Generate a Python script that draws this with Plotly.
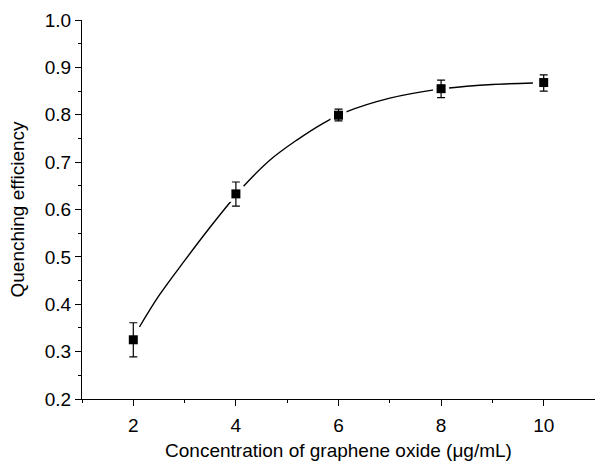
import plotly.graph_objects as go

# Measured data (mean ± error)
conc = [2, 4, 6, 8, 10]
efficiency = [0.325, 0.633, 0.799, 0.855, 0.868]
err_plus = [0.036, 0.025, 0.013, 0.018, 0.016]
err_minus = [0.036, 0.026, 0.012, 0.019, 0.018]

# Fitted curve
fit_x = [2.12, 2.5, 3.0, 3.5, 4.0, 4.14, 4.66, 5.18, 5.7, 6.15, 7.0, 7.83, 8.5, 9.0, 9.79]
fit_y = [0.352, 0.418, 0.492, 0.563, 0.630, 0.648, 0.704, 0.746, 0.782, 0.806, 0.835, 0.852, 0.860, 0.864, 0.867]

x_ticks = [2, 4, 6, 8, 10]
y_ticks = [0.2, 0.3, 0.4, 0.5, 0.6, 0.7, 0.8, 0.9, 1.0]

FONT = "Liberation Sans, Arial, sans-serif"

fig = go.Figure()
fig.add_trace(go.Scatter(x=fit_x, y=fit_y, mode="lines", line=dict(color="black", width=1.4, shape="spline"),
                         showlegend=False, hoverinfo="skip"))
# white halo around markers to create the small gaps in the curve
fig.add_trace(go.Scatter(x=conc, y=efficiency, mode="markers",
                         marker=dict(symbol="square", size=16, color="white"), showlegend=False, hoverinfo="skip"))
fig.add_trace(go.Scatter(x=conc, y=efficiency, mode="markers",
                         marker=dict(symbol="square", size=9, color="black"),
                         error_y=dict(type="data", symmetric=False, array=err_plus, arrayminus=err_minus,
                                      color="black", thickness=1.2, width=4),
                         showlegend=False))

fig.update_layout(
    width=595, height=461,
    margin=dict(l=82, r=0, t=20, b=62),
    paper_bgcolor="white", plot_bgcolor="white",
    font=dict(family=FONT, size=19, color="black"),
    xaxis=dict(range=[1, 11], tickvals=x_ticks, ticktext=[str(v) for v in x_ticks],
               showgrid=False, zeroline=False, showline=True, linecolor="black", linewidth=1.3,
               ticks="outside", ticklen=6, tickwidth=1.3, tickcolor="black", ticklabelstandoff=3,
               minor=dict(dtick=1, tick0=1, ticks="outside", ticklen=3, tickwidth=1.2, tickcolor="black"),
               title=dict(text="Concentration of graphene oxide (μg/mL)", standoff=12, font=dict(size=19)),
               tickfont=dict(size=19)),
    yaxis=dict(range=[0.2, 1.0], tickvals=y_ticks, ticktext=[f"{v:.1f}" for v in y_ticks],
               showgrid=False, zeroline=False, showline=True, linecolor="black", linewidth=1.3,
               ticks="outside", ticklen=6, tickwidth=1.3, tickcolor="black",
               minor=dict(dtick=0.05, tick0=0.2, ticks="outside", ticklen=3, tickwidth=1.2, tickcolor="black"),
               title=dict(text="Quenching efficiency", standoff=14, font=dict(size=19)),
               tickfont=dict(size=19)),
)

fig.write_html("out.html")
